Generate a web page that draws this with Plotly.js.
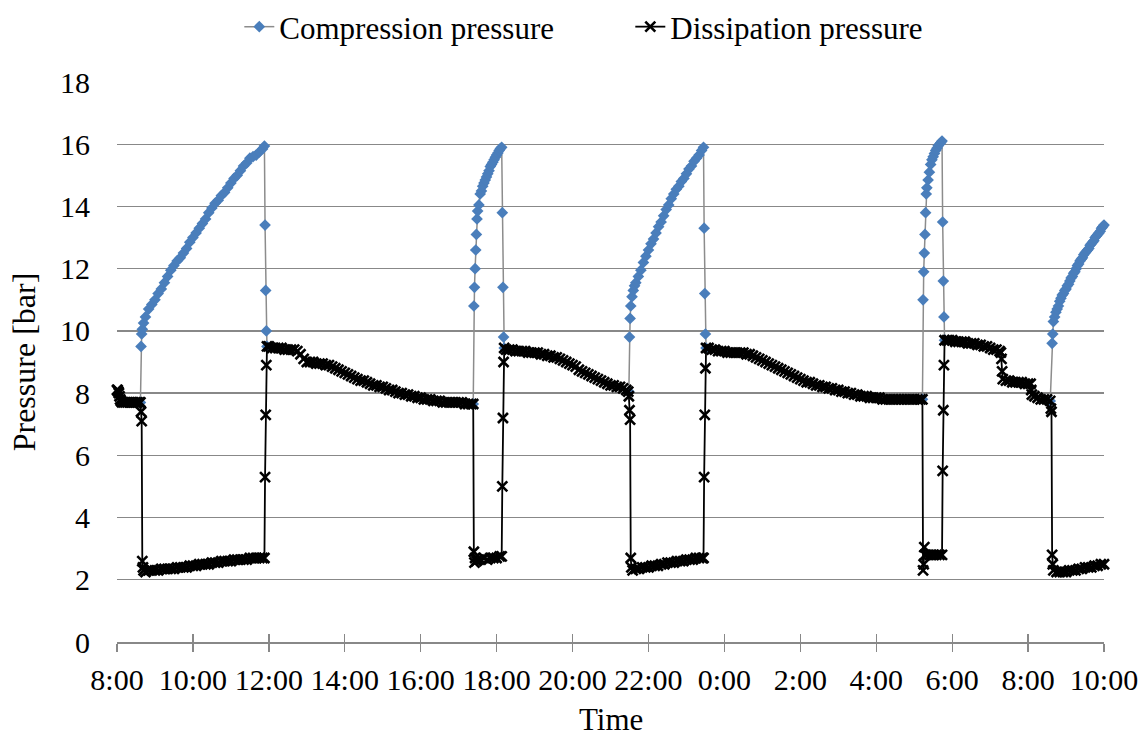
<!DOCTYPE html>
<html>
<head>
<meta charset="utf-8">
<script src="https://cdn.plot.ly/plotly-3.0.1.min.js"></script>
<style>html,body{margin:0;padding:0;background:#fff;}#chart{width:1145px;height:742px;}</style>
</head>
<body>
<div id="chart"></div>
<script>
// Time is given in minutes after 8:00 on the first day
const tickMinutes = [0,120,240,360,480,600,720,840,960,1080,1200,1320,1440,1560];
const tickLabels = ["8:00","10:00","12:00","14:00","16:00","18:00","20:00","22:00","0:00","2:00","4:00","6:00","8:00","10:00"];

const dissipationTime = [
0,1,2,3,4,5,6,8,11,14,17,20,23,26,29,32,35,37,38,39,
40,41,42,45,50,55,60,65,70,75,80,85,90,95,100,105,110,115,120,125,130,135,140,145,150,155,160,165,170,175,180,185,190,195,200,205,210,215,220,225,230,233,
234,235,236,237,
240,245,250,255,260,265,270,275,280,285,290,295,300,305,310,315,320,325,330,335,340,345,350,355,360,365,370,375,380,385,390,395,400,405,410,415,420,425,430,435,440,445,450,455,460,465,470,475,480,485,490,495,500,505,510,515,520,525,530,535,540,545,550,555,560,563,
564,565,566,568,570,575,580,585,590,595,600,605,608,
609,610,611,612,
615,620,625,630,635,640,645,650,655,660,665,670,675,680,685,690,695,700,705,710,715,720,725,730,735,740,745,750,755,760,765,770,775,780,785,790,795,800,805,808,809,810,811,
812,813,815,820,825,830,835,840,845,850,855,860,865,870,875,880,885,890,895,900,905,910,915,920,925,927,
928,929,930,931,
935,940,945,950,955,960,965,970,975,980,985,990,995,1000,1005,1010,1015,1020,1025,1030,1035,1040,1045,1050,1055,1060,1065,1070,1075,1080,1085,1090,1095,1100,1105,1110,1115,1120,1125,1130,1135,1140,1145,1150,1155,1160,1165,1170,1175,1180,1185,1190,1195,1200,1205,1210,1215,1220,1225,1230,1235,1240,1245,1250,1255,1260,1265,1270,1273,
1274,1275,1276,1277,1280,1285,1290,1295,1300,1304,
1305,1306,1307,1308,
1312,1315,1320,1325,1330,1335,1340,1345,1350,1355,1360,1365,1370,1375,1380,1385,1390,1395,1397,1398,1399,1400,1405,1410,1415,1420,1425,1430,1435,1440,1444,1445,1446,1450,1455,1460,1465,1470,1475,1476,1477,
1478,1479,1480,1485,1490,1495,1500,1505,1510,1515,1520,1525,1530,1535,1540,1545,1550,1555,1560
];
const dissipationPressure = [
8.1,8.1,8.05,8.0,7.9,7.8,7.75,7.7,7.7,7.7,7.7,7.7,7.7,7.7,7.7,7.7,7.7,7.7,7.4,7.1,
2.6,2.4,2.3,2.25,2.3,2.3,2.3,2.3,2.35,2.35,2.35,2.35,2.35,2.4,2.4,2.4,2.4,2.45,2.45,2.45,2.5,2.5,2.5,2.5,2.55,2.55,2.55,2.6,2.6,2.6,2.6,2.65,2.65,2.65,2.65,2.65,2.7,2.7,2.7,2.7,2.7,2.7,
5.3,7.3,8.9,9.5,
9.5,9.45,9.45,9.45,9.45,9.4,9.4,9.4,9.4,9.35,9.25,9.1,9.0,9.0,9.0,8.95,8.95,8.95,8.9,8.9,8.85,8.8,8.75,8.7,8.65,8.6,8.55,8.5,8.45,8.4,8.4,8.35,8.3,8.25,8.25,8.2,8.2,8.15,8.1,8.1,8.05,8.0,8.0,7.95,7.95,7.9,7.9,7.85,7.85,7.8,7.8,7.8,7.75,7.75,7.75,7.7,7.7,7.7,7.7,7.7,7.7,7.7,7.65,7.65,7.65,7.65,
2.9,2.55,2.7,2.6,2.65,2.65,2.7,2.65,2.7,2.7,2.7,2.75,2.75,
5.0,7.2,9.0,9.45,
9.4,9.4,9.4,9.35,9.35,9.35,9.35,9.3,9.3,9.3,9.3,9.25,9.25,9.2,9.2,9.15,9.15,9.1,9.05,9.0,8.95,8.9,8.85,8.75,8.7,8.65,8.6,8.55,8.5,8.45,8.4,8.35,8.3,8.25,8.25,8.2,8.2,8.15,8.1,8.05,7.9,7.45,7.15,
2.7,2.4,2.3,2.35,2.35,2.4,2.4,2.4,2.45,2.45,2.45,2.5,2.5,2.55,2.55,2.55,2.6,2.6,2.6,2.65,2.65,2.65,2.7,2.7,2.7,2.7,
5.3,7.3,8.8,9.45,
9.45,9.4,9.4,9.35,9.35,9.35,9.3,9.3,9.3,9.3,9.3,9.3,9.25,9.25,9.2,9.15,9.1,9.05,9.0,8.95,8.9,8.85,8.8,8.75,8.7,8.65,8.6,8.55,8.5,8.45,8.4,8.35,8.35,8.3,8.25,8.25,8.2,8.2,8.15,8.15,8.1,8.1,8.05,8.05,8.0,8.0,7.95,7.95,7.9,7.9,7.9,7.85,7.85,7.85,7.85,7.8,7.8,7.8,7.8,7.8,7.8,7.8,7.8,7.8,7.8,7.8,7.8,7.8,7.8,
2.3,2.5,3.05,2.8,2.8,2.8,2.8,2.8,2.8,2.8,
5.5,7.45,8.9,9.7,
9.7,9.7,9.7,9.65,9.65,9.65,9.65,9.6,9.6,9.6,9.55,9.55,9.5,9.5,9.45,9.4,9.4,9.35,9.3,9.1,8.7,8.45,8.4,8.4,8.35,8.35,8.35,8.35,8.3,8.3,8.3,8.1,7.95,7.9,7.85,7.8,7.8,7.8,7.75,7.5,7.4,
2.8,2.5,2.3,2.25,2.25,2.25,2.25,2.3,2.3,2.3,2.35,2.35,2.4,2.4,2.4,2.45,2.45,2.5,2.5
];

// Compression runs (null separates the runs; between runs it coincides with the dissipation line)
const compressionTime = [
37,38,39,40,42,45,50,55,60,65,70,75,80,85,90,95,100,105,110,115,120,125,130,135,140,145,150,155,160,165,170,175,180,185,190,195,200,205,210,215,220,225,230,233,234,235,236,237,null,
563,564,565,566,567,568,569,570,572,574,576,578,580,582,584,586,588,590,592,594,596,598,600,602,604,606,608,609,610,611,612,null,
809,810,811,812,814,816,818,820,824,828,832,836,840,844,848,852,856,860,864,868,872,876,880,884,888,892,896,900,904,908,912,916,920,924,927,928,929,930,931,null,
1273,1274,1275,1276,1277,1278,1279,1280,1282,1284,1286,1288,1290,1292,1294,1296,1298,1300,1302,1304,1305,1306,1307,1308,null,
1475,1478,1479,1480,1482,1484,1486,1488,1490,1492,1494,1496,1498,1500,1502,1504,1506,1508,1510,1512,1514,1516,1518,1520,1522,1524,1526,1528,1530,1532,1534,1536,1538,1540,1542,1544,1546,1548,1550,1552,1554,1556,1558,1560
];
const compressionPressure = [
7.7,9.5,9.9,10.05,10.25,10.45,10.7,10.85,11.0,11.2,11.35,11.55,11.75,11.95,12.1,12.25,12.35,12.5,12.65,12.85,13.0,13.15,13.3,13.45,13.6,13.8,13.95,14.1,14.2,14.35,14.45,14.6,14.75,14.9,15.0,15.15,15.3,15.4,15.55,15.6,15.65,15.75,15.85,15.94,13.4,11.3,10.0,9.5,null,
7.65,10.8,11.4,12.0,12.6,13.1,13.6,13.85,14.05,14.4,14.5,14.65,14.75,14.85,14.95,15.05,15.15,15.28,15.35,15.42,15.5,15.58,15.65,15.72,15.8,15.86,15.9,13.8,11.4,9.8,9.45,null,
8.05,9.8,10.4,10.8,11.1,11.3,11.45,11.55,11.75,11.95,12.2,12.4,12.6,12.8,12.95,13.15,13.35,13.5,13.7,13.9,14.05,14.25,14.4,14.55,14.65,14.8,14.9,15.05,15.2,15.3,15.45,15.55,15.65,15.8,15.9,13.3,11.2,9.9,9.45,null,
7.8,11.0,11.9,12.5,13.1,13.8,14.4,14.6,14.85,15.1,15.35,15.5,15.6,15.7,15.8,15.87,15.95,16.0,16.05,16.1,13.5,11.6,10.45,9.7,null,
7.75,9.6,9.9,10.3,10.45,10.6,10.7,10.8,10.95,11.05,11.15,11.2,11.3,11.35,11.45,11.5,11.6,11.7,11.75,11.85,11.9,12.0,12.1,12.15,12.25,12.3,12.35,12.45,12.5,12.55,12.6,12.65,12.75,12.8,12.85,12.9,13.0,13.05,13.1,13.15,13.2,13.3,13.35,13.4
];

const serif = "'Liberation Serif', 'Times New Roman', Times, serif";
const gridGray = "#888888";

const traces = [
  {
    name: "Compression pressure",
    x: compressionTime, y: compressionPressure,
    type: "scatter", mode: "lines+markers",
    connectgaps: false, cliponaxis: false,
    line: {color: "#8c8c8c", width: 1.5},
    marker: {symbol: "diamond", size: 9, color: "#4a7ebb", line: {width: 0}}
  },
  {
    name: "Dissipation pressure",
    x: dissipationTime, y: dissipationPressure,
    type: "scatter", mode: "lines+markers",
    cliponaxis: false,
    line: {color: "#000000", width: 1.8},
    marker: {symbol: "x-thin", size: 10, color: "#000000", line: {width: 2.6, color: "#000000"}}
  },
  {
    x: [], y: [], xaxis: "x2", type: "scatter", mode: "markers", showlegend: false, hoverinfo: "skip"
  }
];

const layout = {
  width: 1145, height: 742,
  margin: {l: 117, r: 41, t: 82, b: 100},
  paper_bgcolor: "#ffffff", plot_bgcolor: "#ffffff",
  font: {family: serif, size: 30, color: "#000000"},
  showlegend: true,
  legend: {
    orientation: "h", xref: "container", yref: "container",
    x: 0.209, xanchor: "left", y: 1, yanchor: "top",
    font: {family: serif, size: 31, color: "#000"},
    entrywidth: 346, entrywidthmode: "pixels", tracegroupgap: 0
  },
  xaxis: {
    range: [0, 1560],
    tickmode: "array", tickvals: tickMinutes, ticktext: tickLabels,
    showgrid: false, zeroline: false,
    showline: true, linecolor: gridGray, linewidth: 1.5,
    ticks: "outside", ticklen: 8, tickwidth: 1.3, tickcolor: gridGray,
    tickfont: {family: serif, size: 30, color: "#000"},
    ticklabelstandoff: 2
  },
  xaxis2: {
    range: [0, 1560], overlaying: "x", matches: "x", anchor: "y", side: "bottom",
    tickmode: "array", tickvals: tickMinutes,
    showticklabels: false, showgrid: false, zeroline: false, showline: false,
    ticks: "inside", ticklen: 8, tickwidth: 1.3, tickcolor: gridGray
  },
  yaxis: {
    range: [0, 18], dtick: 2, tick0: 0,
    showgrid: true, gridcolor: gridGray, gridwidth: 1.3,
    zeroline: false, showline: false, ticks: "",
    tickfont: {family: serif, size: 30, color: "#000"},
    ticklabelstandoff: 26,
    title: {text: "Pressure [bar]", font: {family: serif, size: 32, color: "#000"}, standoff: 14}
  },
  annotations: [{
    text: "Time", xref: "paper", yref: "paper", x: 0.5, y: -0.138,
    xanchor: "center", yanchor: "middle", showarrow: false,
    font: {family: serif, size: 31, color: "#000"}
  }],
  hovermode: false
};

Plotly.newPlot("chart", traces, layout, {displayModeBar: false, staticPlot: true});
</script>
</body>
</html>
